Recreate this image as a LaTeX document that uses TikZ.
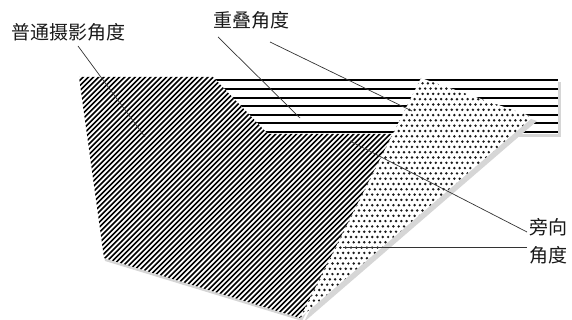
\documentclass[tikz,border=0pt]{standalone}
\usepackage{fontspec}
\newfontfamily\cjk{Noto Sans CJK SC}
\begin{document}
\begin{tikzpicture}[x=1pt,y=-1pt,
  lbl/.style={font=\cjk\fontsize{19}{28}\selectfont,text=black!90,inner sep=0pt},
  leader/.style={draw=black!80,line width=0.7pt},
  shade/.style={fill=black!16,draw=none},
  hstripe/.style={line width=2pt,draw=black},
  dstripe/.style={line width=1.6pt,draw=black},
  dotmark/.style={fill=black!90}]
\useasboundingbox (0,0) rectangle (572,320);
% horizontal striped band
\fill[shade] (203,82) rectangle (561,137);
\fill[white] (200,79) rectangle (558,134);
\foreach \k in {0,...,6} {
  \draw[hstripe] (200,{80.5+\k*8.6}) -- (558,{80.5+\k*8.6});
}
% dark diagonal striped polygon
\fill[shade] (81,80) -- (215,80) -- (270,137) -- (397,137) -- (302,321) -- (105,261) -- cycle;
\fill[white] (79,77) -- (213,77) -- (268,134) -- (395,134) -- (300,318) -- (104,258) -- cycle;
\begin{scope}
  \clip (79,77) -- (213,77) -- (268,134) -- (395,134) -- (300,318) -- (104,258) -- cycle;
  \foreach \k in {0,...,132} {
    \draw[dstripe] ({-245+\k*5.2},322) -- ({-245+\k*5.2+250},72);
  }
\end{scope}
% dotted triangle
\fill[shade] (425,82) -- (537,121) -- (304,322) -- cycle;
\fill[white] (421,78) -- (533,117) -- (300,318) -- cycle;
\begin{scope}
  \clip (421,78) -- (533,117) -- (300,318) -- cycle;
  \foreach \r in {0,...,46} {
    \pgfmathsetmacro{\yy}{78+\r*5.3}
    \pgfmathsetmacro{\off}{mod(\r,2)*2.65}
    \foreach \c in {0,...,45} {
      \fill[dotmark] ({298+\c*5.3+\off},\yy) circle (1.35pt);
    }
  }
\end{scope}
% labels
\node[lbl] (pt) at (68.5,32) {普通摄影角度};
\node[lbl] (cd) at (251.5,20) {重叠角度};
\node[lbl,align=left] (px) at (548,241) {旁向\\角度};
% leader ends
\coordinate (p1) at (78,46);
\coordinate (p2) at (145,137);
\coordinate (c1) at (218,37);
\coordinate (c2) at (300,118);
\coordinate (c3) at (270,42);
\coordinate (c4) at (412,111);
\coordinate (x1) at (527,232);
\coordinate (x2) at (350,141);
\coordinate (x3) at (527,247);
\coordinate (x4) at (343,247);
\draw[leader] (p1) -- (p2);
\draw[leader] (c1) -- (c2);
\draw[leader] (c3) -- (c4);
\draw[leader] (x1) -- (x2);
\draw[leader] (x3) -- (x4);
\end{tikzpicture}
\end{document}
